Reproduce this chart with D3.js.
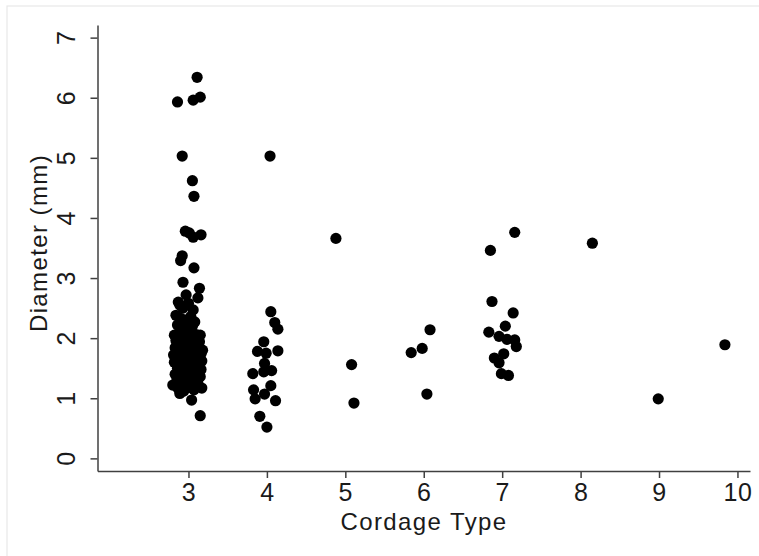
<!DOCTYPE html>
<html>
<head>
<meta charset="utf-8">
<script src="https://cdn.jsdelivr.net/npm/d3@7"></script>
<style>
  body { margin: 0; background: #fff; }
  svg text { font-family: "Liberation Sans", Arial, sans-serif; fill: #1a1a1a; }
</style>
</head>
<body>
<div id="chart"></div>
<script>
// cordage type (jittered) and diameter in mm, one pair per point
var type3 = [
  [3.11, 6.34], [2.86, 5.93], [3.06, 5.96], [3.15, 6.01], [2.92, 5.03],
  [3.05, 4.62], [3.07, 4.36], [2.96, 3.78], [3.01, 3.75], [3.06, 3.68],
  [3.16, 3.72], [2.92, 3.37], [2.90, 3.29], [3.07, 3.17], [2.93, 2.93],
  [3.14, 2.83], [3.12, 2.67], [2.97, 2.72], [3.06, 2.47], [2.89, 2.55],
  [3.04, 0.97], [3.15, 0.71], [3.17, 1.17], [2.89, 1.08], [2.80, 1.22],
  [2.84, 2.38], [2.90, 2.33], [2.96, 2.30], [3.03, 2.36], [3.08, 2.27],
  [2.86, 2.22], [2.93, 2.18], [2.99, 2.12], [3.05, 2.20], [2.82, 2.05],
  [2.88, 2.08], [2.95, 2.02], [3.02, 1.98], [3.10, 2.06], [3.14, 1.94],
  [2.84, 1.96], [2.91, 1.92], [2.97, 1.88], [3.06, 1.90], [3.12, 1.85],
  [2.83, 1.84], [2.89, 1.80], [2.94, 1.76], [3.00, 1.82], [3.08, 1.78],
  [3.16, 1.74], [2.85, 1.72], [2.92, 1.68], [2.98, 1.70], [3.04, 1.66],
  [3.11, 1.68], [3.17, 1.62], [2.82, 1.60], [2.88, 1.63], [2.95, 1.58],
  [3.01, 1.55], [3.07, 1.60], [3.13, 1.55], [2.86, 1.50], [2.92, 1.47],
  [2.99, 1.45], [3.05, 1.50], [3.10, 1.44], [3.16, 1.48], [2.83, 1.40],
  [2.90, 1.37], [2.96, 1.34], [3.03, 1.38], [3.09, 1.32], [3.15, 1.36],
  [2.85, 1.28], [2.91, 1.24], [2.97, 1.22], [3.04, 1.27], [3.12, 1.25],
  [2.87, 1.16], [2.94, 1.12], [3.00, 1.18], [3.07, 1.14], [2.93, 2.50],
  [3.00, 2.58], [2.87, 2.60], [3.15, 2.05], [2.81, 1.72], [3.18, 1.80]
];
var type4 = [
  [4.04, 5.03], [4.05, 2.44], [4.10, 2.26], [4.14, 2.15], [3.96, 1.94],
  [3.88, 1.78], [3.99, 1.75], [4.14, 1.79], [3.97, 1.58], [3.82, 1.41],
  [3.96, 1.44], [4.06, 1.46], [4.05, 1.21], [3.83, 1.14], [3.97, 1.07],
  [3.85, 0.99], [4.11, 0.96], [3.91, 0.70], [4.00, 0.52]
];
var type5 = [[4.88, 3.66], [5.08, 1.56], [5.11, 0.92]];
var type6 = [[5.84, 1.76], [5.98, 1.83], [6.08, 2.14], [6.04, 1.07]];
var type7 = [
  [6.85, 3.46], [7.16, 3.76], [6.87, 2.61], [7.14, 2.42], [7.04, 2.20],
  [6.83, 2.10], [6.96, 2.03], [7.06, 1.98], [7.16, 1.97], [7.18, 1.86],
  [7.02, 1.74], [6.90, 1.67], [6.96, 1.59], [6.99, 1.41], [7.08, 1.38]
];
var type8 = [[8.15, 3.58]];
var type9 = [[8.99, 0.99]];
var type10 = [[9.84, 1.89]];

var xTicks = [3, 4, 5, 6, 7, 8, 9, 10];
var yTicks = [0, 1, 2, 3, 4, 5, 6, 7];

var points = [].concat(type3, type4, type5, type6, type7, type8, type9, type10);

var W = 759, H = 556;
var svg = d3.select("#chart").append("svg")
    .attr("width", W)
    .attr("height", H);

// faint outer frame
svg.append("rect")
    .attr("x", 7).attr("y", 6)
    .attr("width", 760).attr("height", 560)
    .attr("fill", "#fff")
    .attr("stroke", "#e8e8e8")
    .attr("stroke-width", 1.2);

var x = d3.scaleLinear().domain([1.84, 10.16]).range([97.5, 750]);
var y = d3.scaleLinear().domain([-0.21, 7.21]).range([471, 25]);

var xAxis = svg.append("g")
    .attr("transform", "translate(0,471)")
    .call(d3.axisBottom(x).tickValues(xTicks).tickSize(7).tickSizeOuter(0));
xAxis.selectAll("text")
    .attr("y", 30).attr("dy", 0)
    .style("font-size", "25px")
    .style("letter-spacing", "0.5px");

var yAxis = svg.append("g")
    .attr("transform", "translate(97.5,0)")
    .call(d3.axisLeft(y).tickValues(yTicks).tickSize(7).tickSizeOuter(0));
yAxis.selectAll("text")
    .attr("transform", "rotate(-90)")
    .attr("x", 0).attr("y", -22.5).attr("dy", 0)
    .attr("text-anchor", "middle")
    .style("font-size", "25px");

svg.selectAll(".domain, .tick line")
    .attr("stroke", "#404040")
    .attr("stroke-width", 1.5);

svg.append("text")
    .attr("x", 424)
    .attr("y", 530)
    .attr("text-anchor", "middle")
    .style("font-size", "24px")
    .style("letter-spacing", "1.4px")
    .text("Cordage Type");

svg.append("text")
    .attr("transform", "translate(47,243) rotate(-90)")
    .attr("text-anchor", "middle")
    .style("font-size", "24px")
    .style("letter-spacing", "1.4px")
    .text("Diameter (mm)");

svg.append("g").selectAll("circle")
    .data(points)
    .enter()
    .append("circle")
    .attr("cx", function(d) { return x(d[0]); })
    .attr("cy", function(d) { return y(d[1]); })
    .attr("r", 5.6)
    .attr("fill", "#000");
</script>
</body>
</html>
